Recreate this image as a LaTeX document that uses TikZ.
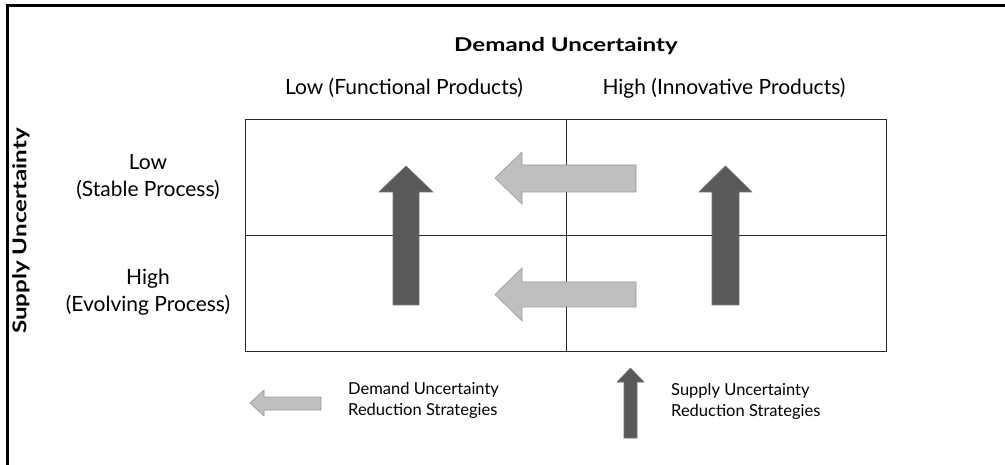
\documentclass[tikz,border=0pt]{standalone}
\usepackage{fontspec}
\setmainfont{Lato}
\newfontfamily\hdrfont{Lato}[FakeStretch=1.27]
\begin{document}
\begin{tikzpicture}[x=1pt,y=-1pt,
  lbl/.style={inner sep=0pt, font=\fontsize{21}{27}\selectfont, align=center},
  leg/.style={inner sep=0pt, font=\fontsize{16.5}{21}\selectfont, align=left, anchor=west},
  hdr/.style={inner sep=0pt, font=\hdrfont\fontsize{19}{22}\selectfont\bfseries},
  grid/.style={draw=black!85, line width=1pt},
  darrow/.style={fill=black!65, draw=black!55, line width=0.6pt},
  larrow/.style={fill=black!25, draw=black!40, line width=0.6pt}]
\useasboundingbox (0,0) rectangle (1005,465);
\fill[white] (0,0) rectangle (1005,465);
% frame
\draw[line width=2.5pt] (7.5,466) -- (7.5,5.5) -- (1006,5.5);
% grid
\draw[grid] (245,120) rectangle (886,352);
\draw[grid] (566,120) -- (566,352);
\draw[grid] (245,236) -- (886,236);
% headers
\node[hdr] (dh) at (566,46) {Demand Uncertainty};
\node[hdr, rotate=90] (sh) at (21,231) {Supply Uncertainty};
\node[lbl] (c1) at (404,88) {Low (Functional Products)};
\node[lbl] (c2) at (724,88) {High (Innovative Products)};
\node[lbl] (r1) at (148,177) {Low\\(Stable Process)};
\node[lbl] (r2) at (148,292) {High\\(Evolving Process)};
% dark (supply) arrows
\draw[darrow] (393,305) -- (393,192) -- (379,192) -- (406,166) -- (433,192) -- (419,192) -- (419,305) -- cycle;
\draw[darrow] (712,305) -- (712,192) -- (699,192) -- (725.5,166) -- (752,192) -- (739,192) -- (739,305) -- cycle;
% light (demand) arrows
\draw[larrow] (636,165) -- (522,165) -- (522,152) -- (495,178) -- (522,204) -- (522,192) -- (636,192) -- cycle;
\draw[larrow] (636,282) -- (522,282) -- (522,268) -- (495,294.5) -- (522,321) -- (522,307) -- (636,307) -- cycle;
% legend
\draw[larrow] (321,397) -- (264,397) -- (264,390) -- (250,403) -- (264,416) -- (264,410) -- (321,410) -- cycle;
\node[leg] (l1) at (348,400) {Demand Uncertainty\\Reduction Strategies};
\draw[darrow] (624,438) -- (624,382) -- (617,382) -- (630.5,368) -- (644,382) -- (637,382) -- (637,438) -- cycle;
\node[leg] (l2) at (671,401) {Supply Uncertainty\\Reduction Strategies};
\end{tikzpicture}
\end{document}
